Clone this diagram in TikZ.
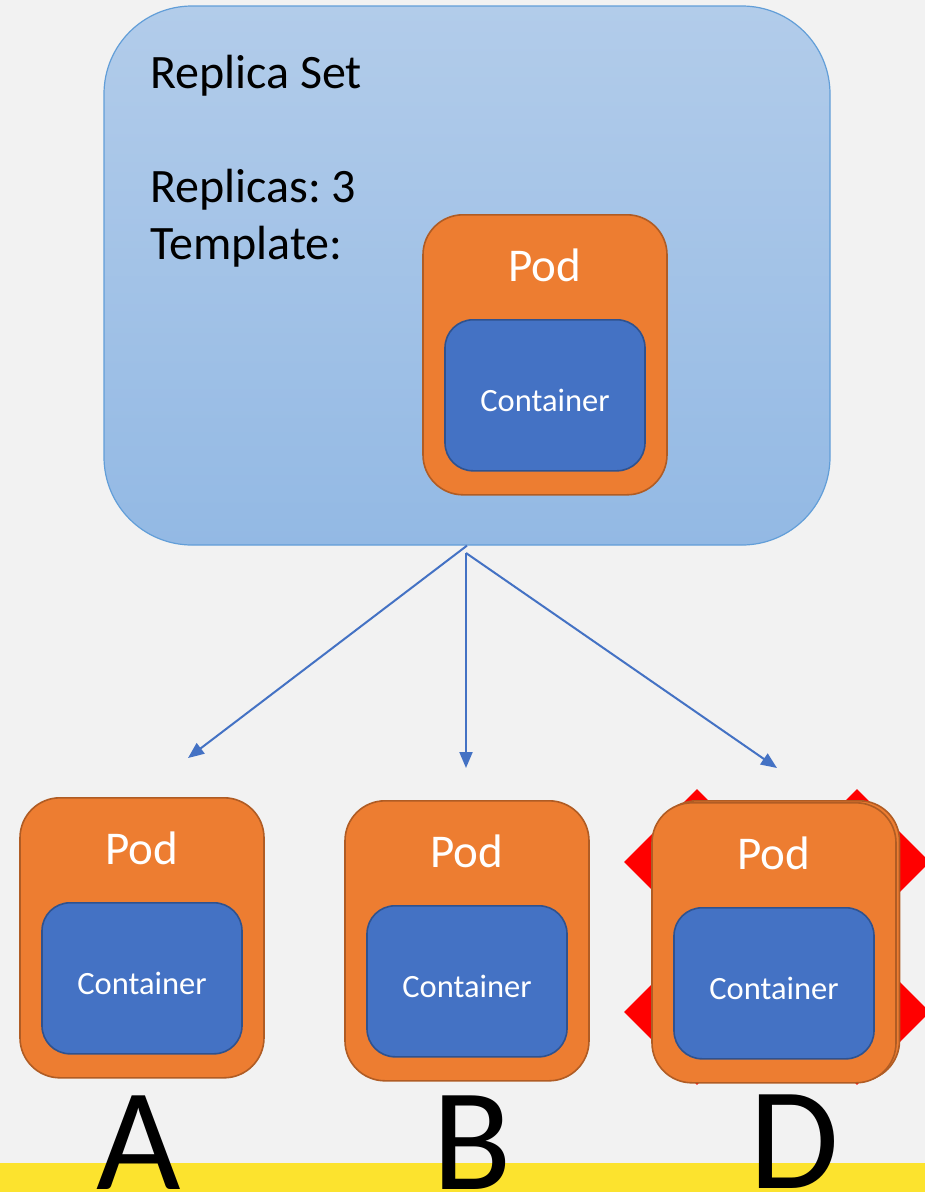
\documentclass[tikz,border=0pt]{standalone}
\usepackage{fontspec}
\setmainfont{Carlito}
\usetikzlibrary{arrows.meta,shapes.geometric}
\frenchspacing

\definecolor{bgc}{RGB}{242,242,242}
\definecolor{rsTop}{RGB}{178,204,234}
\definecolor{rsBot}{RGB}{147,185,228}
\definecolor{rsLine}{RGB}{98,158,216}
\definecolor{podFill}{RGB}{237,125,49}
\definecolor{podLine}{RGB}{176,92,36}
\definecolor{ctrFill}{RGB}{68,114,196}
\definecolor{ctrLine}{RGB}{47,82,143}
\definecolor{linkc}{RGB}{68,114,196}
\definecolor{bandc}{RGB}{252,227,46}

\tikzset{
  podbox/.style={draw=podLine, fill=podFill, line width=1.6pt, rounded corners=40pt,
    inner sep=0pt, minimum width=244pt, minimum height=280pt, anchor=north},
  ctrbox/.style={draw=ctrLine, fill=ctrFill, line width=1.6pt, rounded corners=28pt,
    inner sep=0pt, minimum width=200pt, minimum height=151pt, anchor=north},
  podtext/.style={text=white, font=\fontsize{47}{56}\selectfont, inner sep=0pt, anchor=base},
  ctrtext/.style={text=white, font=\fontsize{32.5}{39}\selectfont, inner sep=0pt, anchor=base},
  rstext/.style={text=black, font=\fontsize{48}{58}\selectfont, inner sep=0pt, anchor=base west},
  letter/.style={text=black, font=\fontsize{146}{160}\selectfont, inner sep=0pt, anchor=base},
  link/.style={draw=linkc, line width=2pt, -{Triangle[length=16pt,width=13pt]}},
  burst/.style={diamond, fill=red, inner sep=0pt, minimum width=146pt, minimum height=146pt},
}

% a pod with its container: name, centre x, top y
\newcommand{\podunit}[3]{%
  \node[podbox] (#1) at (#2,#3) {};
  \node[ctrbox] (#1c) at (#2,#3+105) {};
  \node[podtext] (#1t) at (#2,#3+67) {Pod};
  \node[ctrtext] (#1ct) at (#2,#3+197) {Container};
}

\begin{document}
\begin{tikzpicture}[x=1pt, y=-1pt]
  \fill[bgc] (0,0) rectangle (925,1192);
  \useasboundingbox (0,0) rectangle (925,1192);

  % replica set
  \node[draw=rsLine, line width=1.2pt, top color=rsTop, bottom color=rsBot,
        rounded corners=88pt, inner sep=0pt, minimum width=726pt, minimum height=539pt]
        (rs) at (467,275.5) {};
  \node[rstext] (rsname) at (150,88) {Replica Set};
  \node[rstext] (rscount) at (150,202) {Replicas: 3};
  \node[rstext] (rstpl) at (150,259) {Template:};
  \podunit{tpl}{545}{214}

  % replicated pods
  \podunit{podA}{142}{797}
  \podunit{podB}{467}{800}

  \node[burst] (b1) at (697,862) {};
  \node[burst] (b2) at (857,862) {};
  \node[burst] (b3) at (697,1012) {};
  \node[burst] (b4) at (857,1012) {};
  \node[podbox, minimum width=243pt] (podDback) at (778,800) {};
  \podunit{podD}{774}{802}

  % links
  \coordinate (fork) at (466,553);
  \coordinate (endA) at (188,758);
  \coordinate (endB) at (466,768);
  \coordinate (endD) at (777,768);
  \draw[link] (rs.south) -- (endA);
  \draw[link] (fork) -- (endB);
  \draw[link] (fork) -- (endD);

  % band and letters
  \fill[bandc] (0,1163) rectangle (925,1192);
  \node[letter] (lA) at (139,1189) {A};
  \node[letter] (lB) at (472,1189) {B};
  \node[letter] (lD) at (794,1188) {D};
\end{tikzpicture}
\end{document}
